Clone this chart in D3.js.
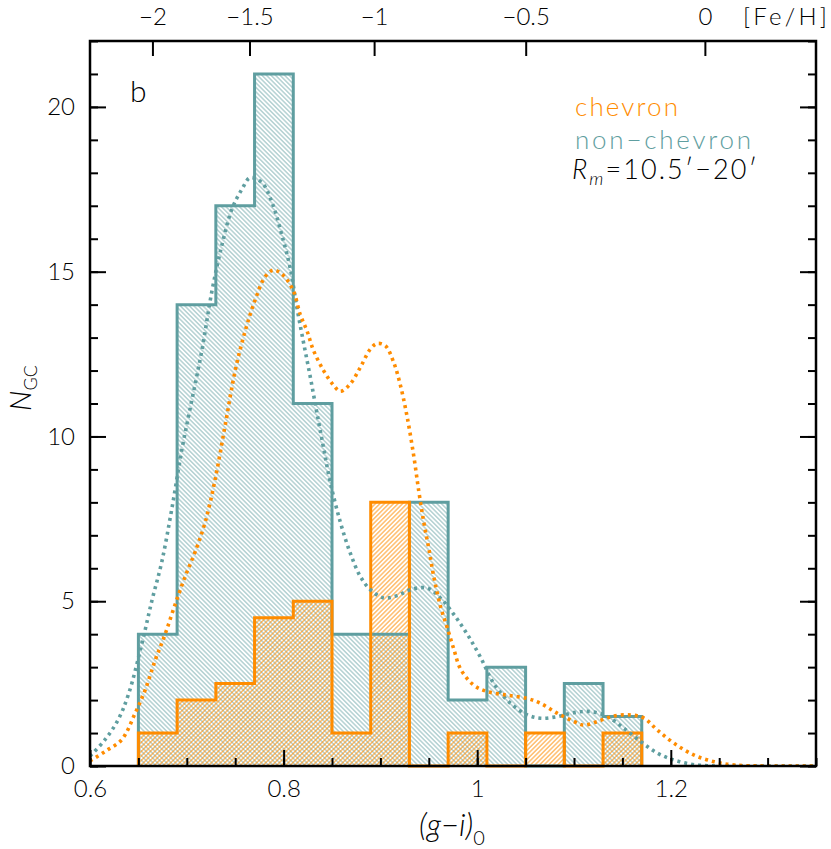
<!DOCTYPE html>
<html>
<head>
<meta charset="utf-8">
<script src="https://cdn.jsdelivr.net/npm/d3@7"></script>
<style>
body { margin: 0; background: #fff; }
svg { display: block; font-family: Lato, "Open Sans", sans-serif; font-weight: 300; }
</style>
</head>
<body>
<svg id="chart" width="831" height="849"></svg>
<script>
// histogram bins, left edges in (g-i)0, width 0.04
var binStarts = [0.65, 0.69, 0.73, 0.77, 0.81, 0.85, 0.89, 0.93, 0.97, 1.01, 1.05, 1.09, 1.13];
var binWidth = 0.04;
var chevronCounts = [1, 2, 2.5, 4.5, 5, 1, 8, 0, 1, 0, 1, 0, 1];
var nonChevronCounts = [4, 14, 17, 21, 11, 4, 4, 8, 2, 3, 0, 2.5, 1.5];

// smoothed curves
var nonChevronKdeX = [0.600, 0.6155, 0.629, 0.640, 0.6535, 0.6638, 0.6742, 0.6845, 0.6949, 0.7052, 0.7155, 0.7259, 0.7362, 0.7466, 0.7569, 0.7655, 0.7776, 0.788, 0.7983, 0.8069, 0.8138, 0.8206, 0.8276, 0.8345, 0.8413, 0.8483, 0.8586, 0.869, 0.8793, 0.8896, 0.9034, 0.9173, 0.931, 0.9483, 0.962, 0.9758, 0.9897, 1.0034, 1.0172, 1.0345, 1.0517, 1.0655, 1.0828, 1.1, 1.1172, 1.1345, 1.1517, 1.169, 1.1862, 1.2034, 1.2241, 1.2483, 1.30, 1.35];
var nonChevronKdeY = [0.3, 0.8, 1.4, 2.2, 3.7, 5.0, 6.2, 7.8, 9.6, 11.1, 12.6, 14.4, 15.8, 16.9, 17.5, 17.85, 17.7, 17.1, 16.1, 15.1, 13.9, 12.85, 11.8, 10.7, 9.65, 8.6, 7.4, 6.45, 5.75, 5.35, 5.1, 5.17, 5.35, 5.4, 5.1, 4.6, 4.0, 3.3, 2.5, 1.9, 1.55, 1.45, 1.5, 1.62, 1.65, 1.5, 1.14, 0.74, 0.39, 0.18, 0.04, 0, 0, 0];
var chevronKdeX = [0.600, 0.6155, 0.6328, 0.6466, 0.6569, 0.6672, 0.6776, 0.6879, 0.6983, 0.7086, 0.719, 0.7293, 0.7397, 0.75, 0.7603, 0.7707, 0.781, 0.7896, 0.8, 0.8103, 0.8172, 0.8242, 0.831, 0.8413, 0.8517, 0.8586, 0.869, 0.8793, 0.8896, 0.8966, 0.9052, 0.9137, 0.9207, 0.9276, 0.9345, 0.9396, 0.9448, 0.95, 0.9551, 0.962, 0.969, 0.9758, 0.9827, 0.9965, 1.0103, 1.031, 1.0517, 1.0655, 1.0828, 1.1, 1.1103, 1.1241, 1.1413, 1.1586, 1.1724, 1.1862, 1.2034, 1.2241, 1.2448, 1.2655, 1.30, 1.35];
var chevronKdeY = [0.15, 0.44, 0.8, 1.6, 2.3, 3.2, 4.0, 4.9, 5.75, 6.5, 7.4, 8.7, 10.35, 12.0, 13.2, 14.15, 14.85, 15.05, 14.88, 14.4, 13.7, 13.2, 12.6, 12.0, 11.55, 11.37, 11.6, 12.1, 12.65, 12.82, 12.75, 12.25, 11.55, 10.6, 9.4, 8.35, 7.4, 6.6, 5.75, 4.85, 4.2, 3.55, 2.95, 2.45, 2.26, 2.15, 2.05, 1.9, 1.6, 1.35, 1.24, 1.35, 1.52, 1.55, 1.45, 1.09, 0.69, 0.33, 0.13, 0.03, 0, 0];

// top axis: [Fe/H] labels and the (g-i)0 they sit at
var feHLabels = ["\u22122", "\u22121.5", "\u22121", "\u22120.5", "0"];
var feHAtColour = [0.6645, 0.7648, 0.8935, 1.0501, 1.2352];

var xMajor = [0.6, 0.8, 1, 1.2];
var yMajor = [0, 5, 10, 15, 20];

var orange = "#ff8c00", teal = "#5f9ea0";

var svg = d3.select("#chart");
var plotL = 90, plotR = 816, plotT = 41, plotB = 766;
var x = d3.scaleLinear().domain([0.6, 1.35]).range([plotL, plotR]);
var y = d3.scaleLinear().domain([0, 22]).range([plotB, plotT]);

// hatch patterns
var defs = svg.append("defs");
function hatch(id, colour, angle, opacity) {
	var p = defs.append("pattern")
		.attr("id", id)
		.attr("patternUnits", "userSpaceOnUse")
		.attr("width", 3.2).attr("height", 3.2)
		.attr("patternTransform", "rotate(" + angle + ")");
	p.append("line")
		.attr("x1", 0.8).attr("y1", 0).attr("x2", 0.8).attr("y2", 3.2)
		.attr("stroke", colour).attr("stroke-width", 1).attr("stroke-opacity", opacity);
}
hatch("hatchTeal", teal, -45, 0.7);
hatch("hatchOrange", orange, 45, 0.85);

defs.append("clipPath").attr("id", "plotClip")
	.append("rect").attr("x", plotL).attr("y", plotT)
	.attr("width", plotR - plotL).attr("height", plotB - plotT);

function stepPoints(counts) {
	var pts = [[binStarts[0], 0]];
	counts.forEach(function(c, i) { pts.push([binStarts[i], c]); });
	var end = binStarts[binStarts.length - 1] + binWidth;
	pts.push([end, counts[counts.length - 1]]);
	pts.push([end, 0]);
	return pts;
}
var step = d3.line()
	.x(function(d) { return x(d[0]); })
	.y(function(d) { return y(d[1]); })
	.curve(d3.curveStepAfter);

var nonPts = stepPoints(nonChevronCounts);
var chevPts = stepPoints(chevronCounts);

svg.append("path").attr("d", step(nonPts) + "Z").attr("fill", "url(#hatchTeal)");
svg.append("path").attr("d", step(chevPts) + "Z").attr("fill", "url(#hatchOrange)");
svg.append("path").attr("d", step(nonPts)).attr("fill", "none")
	.attr("stroke", teal).attr("stroke-width", 3).attr("stroke-linejoin", "miter");
svg.append("path").attr("d", step(chevPts)).attr("fill", "none")
	.attr("stroke", orange).attr("stroke-width", 3).attr("stroke-linejoin", "miter");

// dotted smooth curves
var smooth = d3.line()
	.x(function(d) { return x(d[0]); })
	.y(function(d) { return y(d[1]); })
	.curve(d3.curveCatmullRom);
var curves = svg.append("g").attr("clip-path", "url(#plotClip)");
[[nonChevronKdeX, nonChevronKdeY, teal], [chevronKdeX, chevronKdeY, orange]].forEach(function(c) {
	curves.append("path")
		.attr("d", smooth(d3.zip(c[0], c[1])))
		.attr("fill", "none")
		.attr("stroke", c[2])
		.attr("stroke-width", 3.6)
		.attr("stroke-dasharray", "3,4");
});

// axes, ticks pointing inward
function styleAxis(g) {
	g.select(".domain").remove();
	g.selectAll(".tick line").attr("stroke", "#000").attr("stroke-width", 2);
	g.selectAll(".tick text").attr("fill", "#000").attr("font-size", 24)
		.attr("font-family", "Lato, 'Open Sans', sans-serif");
}
svg.append("g").attr("transform", "translate(0," + plotB + ")")
	.call(d3.axisBottom(x).tickValues(x.ticks(15)).tickSize(-8).tickFormat(""))
	.call(styleAxis);
svg.append("g").attr("transform", "translate(0," + plotB + ")")
	.call(d3.axisBottom(x).tickValues(xMajor).tickSize(-16).tickPadding(14).tickFormat(d3.format("~g")))
	.call(styleAxis);

svg.append("g").attr("transform", "translate(" + plotL + ",0)")
	.call(d3.axisLeft(y).tickValues(y.ticks(22)).tickSize(-8).tickFormat(""))
	.call(styleAxis);
svg.append("g").attr("transform", "translate(" + plotL + ",0)")
	.call(d3.axisLeft(y).tickValues(yMajor).tickSize(-16).tickPadding(15).tickFormat(d3.format("d")))
	.call(styleAxis);
svg.append("g").attr("transform", "translate(" + plotR + ",0)")
	.call(d3.axisRight(y).tickValues(y.ticks(22)).tickSize(-8).tickFormat(""))
	.call(styleAxis);
svg.append("g").attr("transform", "translate(" + plotR + ",0)")
	.call(d3.axisRight(y).tickValues(yMajor).tickSize(-16).tickFormat(""))
	.call(styleAxis);

svg.append("g").attr("transform", "translate(0," + plotT + ")")
	.call(d3.axisTop(x).tickValues(feHAtColour).tickSize(-15).tickPadding(16)
		.tickFormat(function(d, i) { return feHLabels[i]; }))
	.call(styleAxis);

svg.append("rect").attr("x", plotL).attr("y", plotT)
	.attr("width", plotR - plotL).attr("height", plotB - plotT)
	.attr("fill", "none").attr("stroke", "#000").attr("stroke-width", 2.5);

// labels
svg.append("text").attr("x", 743).attr("y", 25).attr("font-size", 24)
	.attr("textLength", 84).attr("lengthAdjust", "spacing").text("[Fe/H]");

svg.append("text").attr("x", 130).attr("y", 102).attr("font-size", 30).text("b");

var xl = svg.append("text").attr("x", 452).attr("y", 836).attr("text-anchor", "middle").attr("font-size", 31);
xl.append("tspan").attr("font-style", "italic").text("(g\u2212i)");
xl.append("tspan").attr("font-size", 20).attr("dy", 9).text("0");

var yl = svg.append("text").attr("transform", "translate(31,388) rotate(-90)")
	.attr("text-anchor", "middle").attr("font-size", 29);
yl.append("tspan").attr("font-style", "italic").text("N");
yl.append("tspan").attr("font-size", 18).attr("dy", 6).text("GC");

svg.append("text").attr("x", 575).attr("y", 116).attr("font-size", 26).attr("fill", orange)
	.attr("textLength", 103).attr("lengthAdjust", "spacing").text("chevron");
svg.append("text").attr("x", 575).attr("y", 149).attr("font-size", 26).attr("fill", teal)
	.attr("textLength", 176).attr("lengthAdjust", "spacing").text("non\u2212chevron");
var rm = svg.append("text").attr("x", 572).attr("y", 179).attr("font-size", 27)
	.attr("textLength", 185).attr("lengthAdjust", "spacing");
rm.append("tspan").attr("font-style", "italic").text("R");
rm.append("tspan").attr("font-style", "italic").attr("font-size", 18).attr("dy", 6).text("m");
rm.append("tspan").attr("dy", -6).text("=10.5\u2032\u221220\u2032");
</script>
</body>
</html>
